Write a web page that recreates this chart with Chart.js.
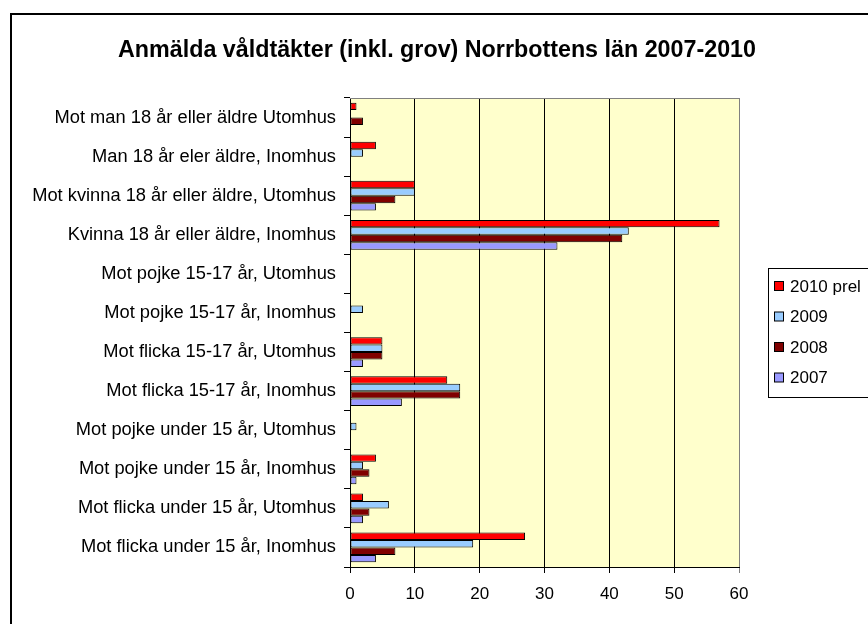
<!DOCTYPE html>
<html>
<head>
<meta charset="utf-8">
<script src="https://cdn.jsdelivr.net/npm/chart.js@4/dist/chart.umd.min.js"></script>
<style>
html, body { margin: 0; padding: 0; background: #fff; overflow: hidden; }
</style>
</head>
<body>
<canvas id="crime_chart" width="868" height="624"></canvas>
<script>
// Categories, top to bottom
const CATEGORIES = [
    'Mot man 18 år eller äldre Utomhus',
    'Man 18 år eler äldre, Inomhus',
    'Mot kvinna 18 år eller äldre, Utomhus',
    'Kvinna 18 år eller äldre, Inomhus',
    'Mot pojke 15-17 år, Utomhus',
    'Mot pojke 15-17 år, Inomhus',
    'Mot flicka 15-17 år, Utomhus',
    'Mot flicka 15-17 år, Inomhus',
    'Mot pojke under 15 år, Utomhus',
    'Mot pojke under 15 år, Inomhus',
    'Mot flicka under 15 år, Utomhus',
    'Mot flicka under 15 år, Inomhus'
];

const V_2010 = [1, 4, 10, 57, 0, 0, 5, 15, 0, 4, 2, 27];
const V_2009 = [0, 2, 10, 43, 0, 2, 5, 17, 1, 2, 6, 19];
const V_2008 = [2, 0, 7, 42, 0, 0, 5, 17, 0, 3, 3, 7];
const V_2007 = [0, 0, 4, 32, 0, 0, 2, 8, 0, 1, 2, 4];

const SERIES_NAMES = ['2010 prel', '2009', '2008', '2007'];
const SERIES_COLORS = ['#FF0000', '#99CCFF', '#800000', '#9999FF'];

const X_MIN = 0;
const X_MAX = 60;
const X_STEP = 10;

const TITLE = 'Anmälda våldtäkter (inkl. grov) Norrbottens län 2007-2010';
const FONT = "'Liberation Sans', Arial, sans-serif";


// background, outer frame, plot border, title and legend box
var framePlugin = {
    id: 'frame',
    beforeDraw: function(chart) {
        var c = chart.ctx;
        var a = chart.chartArea;
        c.save();
        c.fillStyle = '#fff';
        c.fillRect(0, 0, chart.width, chart.height);

        c.lineWidth = 2;
        c.strokeStyle = '#000';
        c.strokeRect(11, 14, chart.width + 20, chart.height + 20);

        c.fillStyle = '#FFFFCC';
        c.fillRect(a.left, a.top, a.right - a.left, a.bottom - a.top);
        c.restore();
    },
    afterDraw: function(chart) {
        var c = chart.ctx;
        var a = chart.chartArea;
        c.save();

        // plot top border
        c.strokeStyle = '#808080';
        c.lineWidth = 1;
        c.beginPath();
        c.moveTo(a.left, a.top + 0.5);
        c.lineTo(a.right, a.top + 0.5);
        c.stroke();

        // title, fitted to its width
        c.fillStyle = '#000';
        c.font = 'bold 23px ' + FONT;
        c.textAlign = 'center';
        c.textBaseline = 'middle';
        var tw = c.measureText(TITLE).width;
        var sx = 638 / tw;
        c.save();
        c.translate(437, 51);
        c.scale(sx, 1);
        c.fillText(TITLE, 0, 0);
        c.restore();

        // legend
        c.strokeStyle = '#000';
        c.strokeRect(768.5, 268.5, 200, 129);
        c.font = '17px ' + FONT;
        c.textAlign = 'left';
        var ds = chart.data.datasets;
        for (var i = 0; i < ds.length; ++i) {
            var y = 286 + i * 30.5;
            c.fillStyle = ds[i].backgroundColor;
            c.fillRect(774.5, y - 4.5, 9, 9);
            c.strokeRect(774.5, y - 4.5, 9, 9);
            c.fillStyle = '#000';
            c.fillText(ds[i].label, 790, y + 1);
        }
        c.restore();
    }
};

var seriesValues = [V_2010, V_2009, V_2008, V_2007];
var datasets = [];
for (var i = 0; i < seriesValues.length; ++i) {
    datasets.push({
        label: SERIES_NAMES[i],
        data: seriesValues[i],
        backgroundColor: SERIES_COLORS[i],
        borderColor: '#000',
        borderWidth: function(ctx) { return ctx.raw === 0 ? 0 : 1; },
        borderSkipped: false,
        categoryPercentage: 0.76,
        barPercentage: 1.0
    });
}

var ctx_c = document.getElementById('crime_chart').getContext('2d');
var chart = new Chart(ctx_c, {
    type: 'bar',
    data: {
        labels: CATEGORIES,
        datasets: datasets
    },
    options: {
        indexAxis: 'y',
        responsive: false,
        animation: false,
        layout: { padding: { top: 98, right: 129, left: 0, bottom: 0 } },
        plugins: {
            legend: { display: false },
            title: { display: false },
            tooltip: { enabled: false }
        },
        scales: {
            x: {
                min: X_MIN,
                max: X_MAX,
                afterFit: function(s) { s.height = 57; },
                ticks: {
                    stepSize: X_STEP,
                    color: '#000',
                    padding: 11,
                    font: { family: FONT, size: 17 }
                },
                grid: {
                    color: function(ctx) {
                        return ctx.tick && ctx.tick.value === X_MAX ? '#808080' : '#000';
                    },
                    tickLength: 6
                },
                border: { color: '#000' }
            },
            y: {
                afterFit: function(s) { s.width = 350; },
                ticks: {
                    color: '#000',
                    padding: 8,
                    autoSkip: false,
                    font: { family: FONT, size: 18.3 }
                },
                grid: {
                    offset: true,
                    drawOnChartArea: false,
                    tickLength: 6,
                    color: '#000'
                },
                border: { color: '#000' }
            }
        }
    },
    plugins: [framePlugin]
});
</script>
</body>
</html>
